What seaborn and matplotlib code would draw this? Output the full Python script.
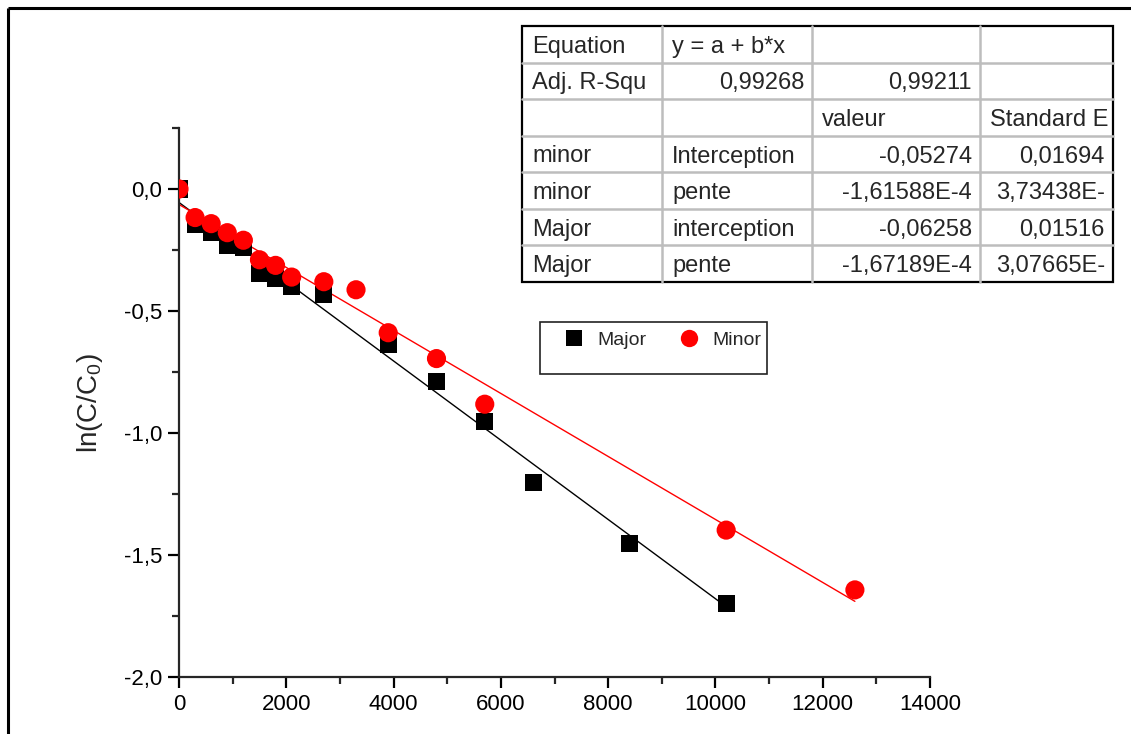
import numpy as np
import pandas as pd
import matplotlib
matplotlib.use("Agg")
import matplotlib.pyplot as plt
import seaborn as sns
from matplotlib.ticker import MultipleLocator, FuncFormatter
from matplotlib.lines import Line2D
from matplotlib.patches import Rectangle

# Kinetics of the two isomers: time vs ln(C/C0)
major_t = [0, 300, 600, 900, 1200, 1500, 1800, 2100, 2700, 3900, 4800, 5700, 6600, 8400, 10200]
major_ln = [0.0, -0.145, -0.179, -0.230, -0.238, -0.347, -0.366, -0.398, -0.432,
            -0.637, -0.790, -0.951, -1.201, -1.451, -1.697]
minor_t = [0, 300, 600, 900, 1200, 1500, 1800, 2100, 2700, 3300, 3900, 4800, 5700, 10200, 12600]
minor_ln = [0.0, -0.117, -0.142, -0.179, -0.210, -0.290, -0.313, -0.361, -0.380,
            -0.413, -0.589, -0.695, -0.882, -1.398, -1.643]

series_names = ["Major", "Minor"]

# Linear-fit summary table
fit_table = [
    ["Equation", "y = a + b*x", "", ""],
    ["Adj. R-Squ", "0,99268", "0,99211", ""],
    ["", "", "valeur", "Standard E"],
    ["minor", "Interception", "-0,05274", "0,01694"],
    ["minor", "pente", "-1,61588E-4", "3,73438E-"],
    ["Major", "interception", "-0,06258", "0,01516"],
    ["Major", "pente", "-1,67189E-4", "3,07665E-"],
]

sns.set_style("ticks")
plt.rcParams["font.family"] = ["Liberation Sans", "DejaVu Sans"]
plt.rcParams["mathtext.default"] = "regular"

W, H = 1131, 734
fig = plt.figure(figsize=(W / 100, H / 100), dpi=100)
ax = fig.add_axes([179 / W, 1 - 677 / H, (930 - 179) / W, (677 - 128) / H])

df = pd.concat([
    pd.DataFrame({"t": major_t, "ln": major_ln, "serie": series_names[0]}),
    pd.DataFrame({"t": minor_t, "ln": minor_ln, "serie": series_names[1]}),
], ignore_index=True)

palette = {"Major": "black", "Minor": "#ff0000"}
markers = {"Major": "s", "Minor": "o"}

# fitted lines
for name in series_names:
    sub = df[df["serie"] == name]
    sns.regplot(data=sub, x="t", y="ln", ax=ax, scatter=False, ci=None,
                truncate=True, color=palette[name], line_kws={"lw": 1.0})

# data points
sns.scatterplot(data=df[df["serie"] == "Major"], x="t", y="ln", ax=ax,
                marker="s", s=150, color="black", edgecolor="none", legend=False, zorder=3)
sns.scatterplot(data=df[df["serie"] == "Minor"], x="t", y="ln", ax=ax,
                marker="o", s=190, color="#ff0000", edgecolor="none", legend=False, zorder=4)

ax.set_xlim(0, 14000)
ax.set_ylim(-2.0, 0.25)
ax.xaxis.set_major_locator(MultipleLocator(2000))
ax.xaxis.set_minor_locator(MultipleLocator(1000))
ax.yaxis.set_major_locator(MultipleLocator(0.5))
ax.yaxis.set_minor_locator(MultipleLocator(0.25))
ax.yaxis.set_major_formatter(FuncFormatter(lambda v, p: f"{v:.1f}".replace(".", ",").replace("-0,0", "0,0")))
ax.xaxis.set_major_formatter(FuncFormatter(lambda v, p: f"{v:.0f}"))
for side in ["top", "right"]:
    ax.spines[side].set_visible(False)
for side in ["left", "bottom"]:
    ax.spines[side].set_linewidth(1.6)
ax.tick_params(which="major", direction="out", length=8, width=1.6, labelsize=16, pad=4, colors="black")
ax.tick_params(which="minor", direction="out", length=5, width=1.6)
ax.set_xlabel("")
ax.set_ylabel("ln(C/C$_0$)", fontsize=20, labelpad=14)

# legend
handles = [Line2D([], [], ls="none", marker=markers[n], color=palette[n],
                  markersize=11 if n == "Major" else 12.5, markeredgewidth=0) for n in series_names]
fig.legend(handles, series_names, loc="upper left", bbox_to_anchor=(564 / W, 1 - 331 / H),
           ncol=2, frameon=False, fontsize=14, handletextpad=0.7, columnspacing=1.7,
           handlelength=1.0, borderpad=0, borderaxespad=0)

# overlay in pixel units for the table, legend box and outer frame
ov = fig.add_axes([0, 0, 1, 1], zorder=5)
ov.set_xlim(0, W)
ov.set_ylim(H, 0)
ov.axis("off")
ov.patch.set_alpha(0)

ov.add_patch(Rectangle((540, 322), 227, 52, fill=False, ec="#222222", lw=1.2))
ov.plot([8, W + 5], [8, 8], color="black", lw=2.2, solid_capstyle="butt")
ov.plot([8, 8], [8, H + 5], color="black", lw=2.2, solid_capstyle="butt")

col_x = [522, 662, 812, 980, 1113]
top, bottom = 26, 282
n_rows = len(fit_table)
row_h = (bottom - top) / n_rows
for i in range(1, n_rows):
    y = top + i * row_h
    ov.plot([col_x[0], col_x[-1]], [y, y], color="#bdbdbd", lw=1.8)
for x in col_x[1:-1]:
    ov.plot([x, x], [top, bottom], color="#bdbdbd", lw=1.8)
ov.add_patch(Rectangle((col_x[0], top), col_x[-1] - col_x[0], bottom - top,
                       fill=False, ec="black", lw=1.6))


def is_number(s):
    return len(s) > 0 and (s[0].isdigit() or (s[0] == "-" and len(s) > 1 and s[1].isdigit()))


for r, row in enumerate(fit_table):
    yc = top + (r + 0.5) * row_h
    for c, txt in enumerate(row):
        if not txt:
            continue
        if is_number(txt):
            ov.text(col_x[c + 1] - 8, yc, txt, ha="right", va="center_baseline", fontsize=17)
        else:
            ov.text(col_x[c] + 10, yc, txt, ha="left", va="center_baseline", fontsize=17)

fig.savefig("out.png", dpi=100, facecolor="white")
